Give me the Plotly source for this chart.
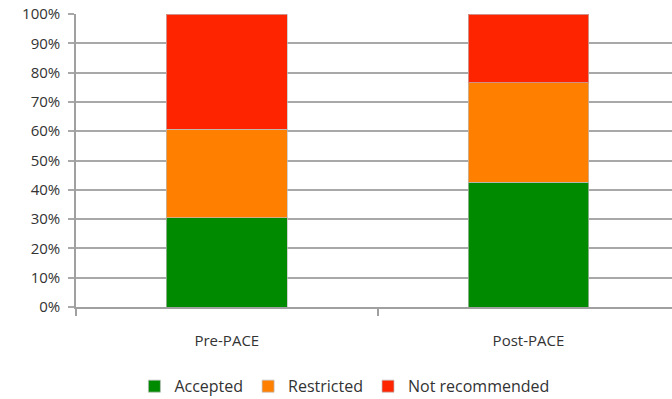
import plotly.graph_objects as go

# Share of recommendations before and after PACE (percent of total)
phases = ["Pre-PACE", "Post-PACE"]
accepted = [30.5, 42.6]
restricted = [30.2, 33.9]
not_recommended = [39.3, 23.5]

series = [
    ("Accepted", accepted, "#008a00"),
    ("Restricted", restricted, "#ff7f00"),
    ("Not recommended", not_recommended, "#ff2400"),
]

fig = go.Figure()
for name, vals, color in series:
    fig.add_trace(go.Bar(
        x=phases,
        y=[v / 100 for v in vals],
        name=name,
        marker=dict(color=color, line=dict(color="rgba(190,190,190,0.7)", width=1)),
        width=0.4,
    ))

fig.update_layout(
    barmode="stack",
    width=672,
    height=399,
    margin=dict(l=76, r=0, t=14, b=92, autoexpand=False),
    paper_bgcolor="white",
    plot_bgcolor="white",
    font=dict(family="Open Sans, Liberation Sans, sans-serif", size=14, color="#333333"),
    legend=dict(
        orientation="h",
        x=0.2,
        xref="container",
        xanchor="left",
        y=0.032,
        yref="container",
        yanchor="middle",
        font=dict(size=16, color="#333333"),
        itemwidth=30,
        traceorder="normal",
    ),
    bargap=0.6,
)

fig.update_xaxes(
    type="category",
    range=[-0.5, 1.476],
    tickson="boundaries",
    ticks="outside",
    ticklen=7,
    tickcolor="#a0a0a0",
    tickwidth=1.5,
    showline=True,
    linecolor="#a0a0a0",
    linewidth=1.5,
    showgrid=False,
    ticklabelstandoff=19,
    tickfont=dict(size=15, color="#333333"),
)

fig.update_yaxes(
    range=[0, 1],
    dtick=0.1,
    tickformat=".0%",
    showgrid=True,
    gridcolor="#a8a8a8",
    gridwidth=1.5,
    showline=True,
    linecolor="#a0a0a0",
    linewidth=1.5,
    ticks="outside",
    ticklen=6,
    tickcolor="#a8a8a8",
    tickwidth=1.5,
    zeroline=False,
    ticklabelstandoff=5,
    tickfont=dict(size=15, color="#333333"),
)

fig.write_html("out.html")
